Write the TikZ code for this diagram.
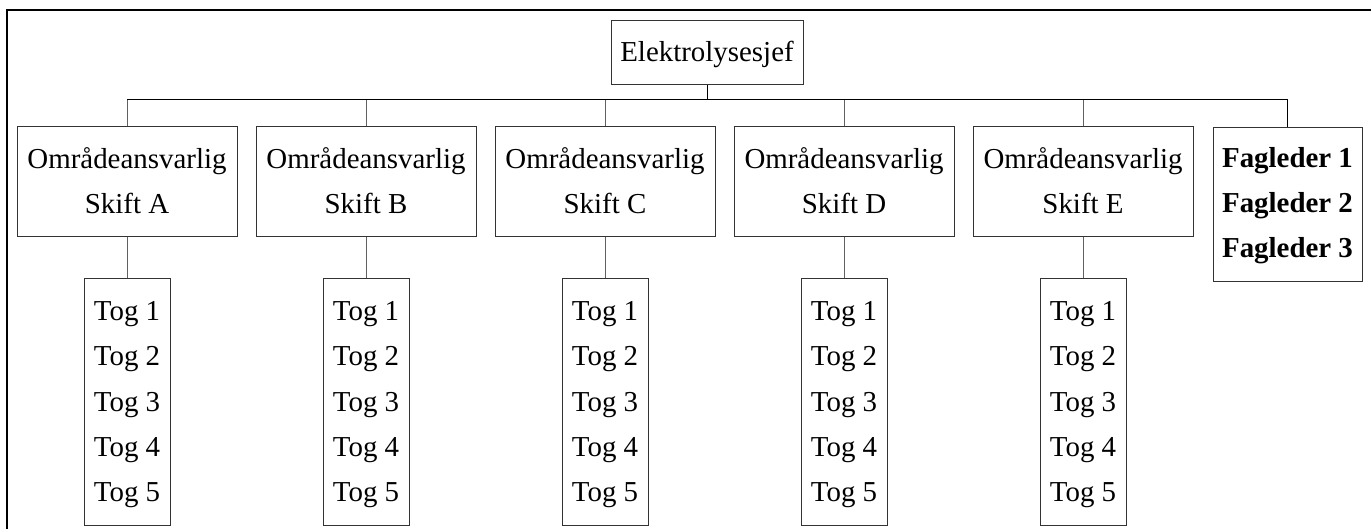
\documentclass[tikz,border=0pt]{standalone}
\usepackage{fontspec}
\setmainfont{Liberation Serif}
\begin{document}
\begin{tikzpicture}[x=1pt,y=-1pt,
  box/.style={draw=black!80, line width=1pt, inner sep=0pt},
  stem/.style={draw=black!62, line width=1pt},
  bus/.style={draw=black, line width=1pt},
  txt/.style={anchor=base, inner sep=0pt, font=\fontsize{28.9}{45}\selectfont},
  btxt/.style={txt, font=\fontsize{28.9}{45}\selectfont\bfseries}]
\useasboundingbox (0,0) rectangle (1371,529);
% outer frame (only top and left visible)
\draw[line width=1.2pt] (7,535) -- (7,10) -- (1375,10);
% top box
\node[box, minimum width=192, minimum height=64] (top) at (707,53) {};
\node[txt] (toptxt) at (707,62) {Elektrolysesjef};
% bus
\coordinate (busL) at (127,100);
\coordinate (busR) at (1288,100);
\draw[bus] (busL) -- (busR);
\draw[bus] (top.south) -- (top.south |- busL);
% area boxes
\foreach \n/\cx/\s in {a/127/A, b/366/B, c/605/C, d/844/D, e/1083/E}{
  \node[box, minimum width=220, minimum height=110] (omr\n) at (\cx,182) {};
  \node[txt] (omr\n l1) at (\cx,169) {Områdeansvarlig};
  \node[txt] (omr\n l2) at (\cx,214) {Skift \s};
  \draw[stem] (omr\n.north |- busL) -- (omr\n.north);
  \node[box, minimum width=86, minimum height=246] (tog\n) at (\cx,402) {};
  \draw[stem] (omr\n.south) -- (tog\n.north);
  \foreach \k/\y in {1/321,2/366,3/411,4/456,5/501}{
    \node[txt] (tog\n\k) at (\cx,\y) {Tog \k};
  }
}
% fagleder box
\node[box, minimum width=149, minimum height=154] (fag) at (1287.5,205) {};
\draw[bus] (fag.north |- busR) -- (fag.north);
\foreach \k/\y in {1/168,2/213,3/258}{
  \node[btxt] (fag\k) at (1287.5,\y) {Fagleder \k};
}
\end{tikzpicture}
\end{document}
